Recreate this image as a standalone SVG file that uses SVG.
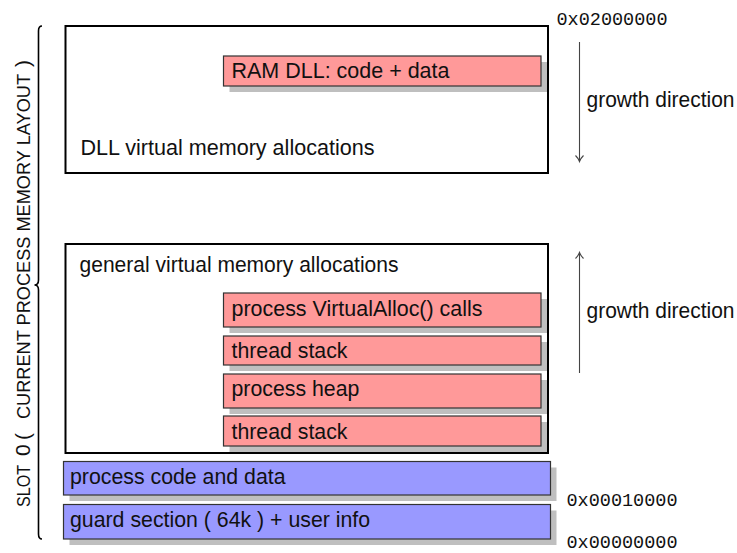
<svg xmlns="http://www.w3.org/2000/svg" width="737" height="553" viewBox="0 0 737 553">
  <style>
    .lbl { font-family: "Liberation Sans", Arial, sans-serif; font-size: 21.3px; fill: #111; }
    .addr { font-family: "Liberation Mono", "Courier New", monospace; font-size: 18.5px; fill: #111; }
    .region { fill: #fff; stroke: #000; stroke-width: 2; }
    .shadow { fill: #bfbfbf; }
    .pink { fill: #ff9999; stroke: #333; stroke-width: 1.2; }
    .blue { fill: #9999ff; stroke: #333; stroke-width: 1.2; }
    .arrow { stroke: #444; stroke-width: 1.1; fill: none; }
    .brace { stroke: #000; stroke-width: 1.6; fill: none; }
    .side { font-family: "Liberation Sans", Arial, sans-serif; fill: #111; }
  </style>

  <!-- upper region: DLL allocations -->
  <g id="dll-region">
    <rect class="region" x="65.5" y="26" width="482.5" height="147"/>
    <text class="lbl" x="80.5" y="155" textLength="294" lengthAdjust="spacingAndGlyphs">DLL virtual memory allocations</text>
  </g>
  <g id="ram-dll">
    <rect class="shadow" x="229.5" y="62" width="317.5" height="30"/>
    <rect class="pink" x="223.5" y="56" width="317.5" height="30"/>
    <text class="lbl" x="231.5" y="78" textLength="218" lengthAdjust="spacingAndGlyphs">RAM DLL: code + data</text>
  </g>

  <!-- lower region: general allocations -->
  <g id="general-region">
    <rect class="region" x="65.5" y="244" width="482.5" height="209"/>
    <text class="lbl" x="79.5" y="272" textLength="319" lengthAdjust="spacingAndGlyphs">general virtual memory allocations</text>
  </g>
  <g id="virtualalloc">
    <rect class="shadow" x="229.5" y="299" width="317.5" height="34"/>
    <rect class="pink" x="223.5" y="293" width="317.5" height="34"/>
    <text class="lbl" x="231.5" y="316" textLength="251" lengthAdjust="spacingAndGlyphs">process VirtualAlloc() calls</text>
  </g>
  <g id="thread-stack-1">
    <rect class="shadow" x="229.5" y="342" width="317.5" height="29"/>
    <rect class="pink" x="223.5" y="336" width="317.5" height="29"/>
    <text class="lbl" x="231.5" y="358">thread stack</text>
  </g>
  <g id="process-heap">
    <rect class="shadow" x="229.5" y="380" width="317.5" height="34"/>
    <rect class="pink" x="223.5" y="374" width="317.5" height="34"/>
    <text class="lbl" x="231.5" y="396">process heap</text>
  </g>
  <g id="thread-stack-2">
    <rect class="shadow" x="229.5" y="422" width="317.5" height="30"/>
    <rect class="pink" x="223.5" y="416" width="317.5" height="30"/>
    <text class="lbl" x="231.5" y="439">thread stack</text>
  </g>

  <!-- image sections -->
  <g id="process-code">
    <rect class="shadow" x="69.5" y="467.5" width="487" height="33.5"/>
    <rect class="blue" x="63.5" y="461.5" width="487" height="33.5"/>
    <text class="lbl" x="70" y="484">process code and data</text>
  </g>
  <g id="guard-section">
    <rect class="shadow" x="69.5" y="510.5" width="487" height="34.5"/>
    <rect class="blue" x="63.5" y="504.5" width="487" height="34.5"/>
    <text class="lbl" x="70" y="527">guard section ( 64k ) + user info</text>
  </g>

  <!-- address marks -->
  <g id="addresses">
    <text class="addr" x="556.5" y="25" textLength="111" lengthAdjust="spacingAndGlyphs">0x02000000</text>
    <text class="addr" x="566.5" y="506" textLength="111" lengthAdjust="spacingAndGlyphs">0x00010000</text>
    <text class="addr" x="566.5" y="547.5" textLength="111" lengthAdjust="spacingAndGlyphs">0x00000000</text>
  </g>

  <!-- growth direction arrows -->
  <g id="connectors">
    <path class="arrow" d="M579.5 42 V161"/>
    <path class="arrow" d="M575.5 155.5 Q578.5 158.5 579.5 161.5 Q580.5 158.5 583.5 155.5"/>
    <path class="arrow" d="M579.5 373 V253"/>
    <path class="arrow" d="M575.5 258.5 Q578.5 255.5 579.5 252.5 Q580.5 255.5 583.5 258.5"/>
  </g>
  <g id="growth-labels">
    <text class="lbl" x="586.5" y="107" textLength="148" lengthAdjust="spacingAndGlyphs">growth direction</text>
    <text class="lbl" x="586.5" y="318" textLength="148" lengthAdjust="spacingAndGlyphs">growth direction</text>
  </g>

  <!-- slot brace and caption -->
  <g id="slot-brace">
    <path class="brace" d="M42 26 Q38.5 26 38.5 31 V280 Q38.5 285 34.5 285 Q38.5 285 38.5 290 V534 Q38.5 539 42 539"/>
    <text class="side" transform="translate(30 507) rotate(-90)">
      <tspan x="0" font-size="17.5" textLength="42" lengthAdjust="spacingAndGlyphs">SLOT</tspan>
      <tspan x="51" font-size="21">0</tspan>
      <tspan x="67" font-size="21">(</tspan>
      <tspan x="88" font-size="17.5" textLength="345" lengthAdjust="spacingAndGlyphs">CURRENT PROCESS MEMORY LAYOUT</tspan>
      <tspan x="440" font-size="21">)</tspan>
    </text>
  </g>
</svg>
